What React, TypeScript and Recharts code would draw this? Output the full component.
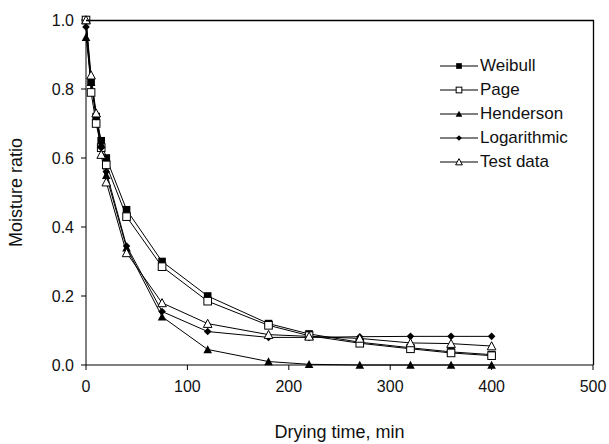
import React from 'react';
import {
  LineChart,
  Line,
  XAxis,
  YAxis
} from 'recharts';

// Drying times (min) and moisture ratio per model
const times = [0, 5, 10, 15, 20, 40, 75, 120, 180, 220, 270, 320, 360, 400];
const weibull = [1.0, 0.82, 0.72, 0.65, 0.6, 0.45, 0.3, 0.2, 0.12, 0.09, 0.066, 0.05, 0.038, 0.03];
const page = [1.0, 0.79, 0.7, 0.63, 0.58, 0.43, 0.285, 0.185, 0.115, 0.085, 0.063, 0.047, 0.035, 0.027];
const henderson = [0.95, 0.82, 0.73, 0.64, 0.55, 0.34, 0.14, 0.045, 0.01, 0.002, 0, 0, 0, 0];
const logarithmic = [0.98, 0.82, 0.72, 0.63, 0.56, 0.345, 0.155, 0.097, 0.08, 0.08, 0.082, 0.083, 0.083, 0.083];
const testData = [1.0, 0.84, 0.73, 0.61, 0.53, 0.325, 0.18, 0.12, 0.088, 0.083, 0.077, 0.064, 0.062, 0.055];

const xTicks = [0, 100, 200, 300, 400, 500];
const yTicks = [0, 0.2, 0.4, 0.6, 0.8, 1.0];

const series = [
  { key: 'weibull', name: 'Weibull', values: weibull, marker: 'squareFilled' },
  { key: 'page', name: 'Page', values: page, marker: 'squareOpen' },
  { key: 'henderson', name: 'Henderson', values: henderson, marker: 'triangleFilled' },
  { key: 'logarithmic', name: 'Logarithmic', values: logarithmic, marker: 'diamond' },
  { key: 'testData', name: 'Test data', values: testData, marker: 'triangleOpen' }
];

const data = times.map((t, i) => {
  const row: Record<string, number> = { time: t };
  series.forEach(s => { row[s.key] = s.values[i]; });
  return row;
});

const FONT = 'Liberation Sans, Arial, sans-serif';
const INK = '#111';

// chart box and plot margins
const W = 609;
const H = 444;
const M = { top: 20, right: 16, left: 86, bottom: 79 };

const Marker = ({ type, cx, cy, size = 1 }: { type: string; cx: number; cy: number; size?: number }) => {
  const s = 3.8 * size;
  switch (type) {
    case 'squareFilled':
      return <rect x={cx - s} y={cy - s} width={s * 2} height={s * 2} fill="#000" />;
    case 'squareOpen':
      return <rect x={cx - s} y={cy - s} width={s * 2} height={s * 2} fill="#fff" stroke="#000" strokeWidth={1} />;
    case 'triangleFilled':
      return <polygon points={`${cx},${cy - s - 0.5} ${cx + s + 0.5},${cy + s} ${cx - s - 0.5},${cy + s}`} fill="#000" />;
    case 'triangleOpen':
      return <polygon points={`${cx},${cy - s - 0.5} ${cx + s + 0.5},${cy + s} ${cx - s - 0.5},${cy + s}`} fill="#fff" stroke="#000" strokeWidth={1} />;
    case 'diamond':
      return <polygon points={`${cx},${cy - s} ${cx + s},${cy} ${cx},${cy + s} ${cx - s},${cy}`} fill="#000" />;
    default:
      return null;
  }
};

const makeDot = (type: string) => (props: any) => {
  const { cx, cy, index } = props;
  if (cx == null || cy == null) return <g key={index} />;
  return (
    <g key={`${type}-${index}`}>
      <Marker type={type} cx={cx} cy={cy} />
    </g>
  );
};

// Legend box placed inside the plot, upper right
const LegendBox = () => (
  <div style={{ position: 'absolute', left: 440, top: 54, fontFamily: FONT, fontSize: 17, color: INK }}>
    {series.map(s => (
      <div key={s.key} style={{ display: 'flex', alignItems: 'center', height: 24 }}>
        <svg width={38} height={12} style={{ marginRight: 2 }}>
          <line x1={0} y1={6} x2={38} y2={6} stroke="#000" strokeWidth={1} />
          <Marker type={s.marker} cx={19} cy={6} size={0.75} />
        </svg>
        <span>{s.name}</span>
      </div>
    ))}
  </div>
);

// Top and right edges of the plot box, laid over the chart
const PlotFrame = () => {
  const x0 = M.left;
  const x1 = W - M.right;
  const y0 = M.top;
  const y1 = H - M.bottom;
  return (
    <svg
      width={W}
      height={H}
      style={{ position: 'absolute', left: 0, top: 0, pointerEvents: 'none', zIndex: 2 }}
    >
      <line x1={x0} y1={y0 + 0.5} x2={x1 + 1} y2={y0 + 0.5} stroke="#000" strokeWidth={1.3} />
      <line x1={x1 + 0.5} y1={y0} x2={x1 + 0.5} y2={y1} stroke="#000" strokeWidth={1.3} />
    </svg>
  );
};

const App: React.FC = () => {
  return (
    <div style={{ position: 'relative', width: W, height: H, background: '#fff' }}>
      <style>{'body{margin:0;}'}</style>
      <LineChart
        width={W}
        height={H}
        data={data}
        margin={{ top: M.top, right: M.right, left: 0, bottom: 0 }}
      >
        <XAxis
          dataKey="time"
          type="number"
          domain={[0, 500]}
          ticks={xTicks}
          height={M.bottom}
          stroke="#000"
          tickSize={5}
          tick={{ fill: INK, fontSize: 16, fontFamily: FONT, dy: 9 }}
          label={{
            value: 'Drying time, min',
            position: 'insideBottom',
            offset: 6,
            style: { fill: INK, fontSize: 18, fontFamily: FONT }
          }}
        />
        <YAxis
          type="number"
          domain={[0, 1]}
          ticks={yTicks}
          width={M.left}
          stroke="#000"
          tickSize={5}
          tickFormatter={(v: number) => v.toFixed(1)}
          tick={{ fill: INK, fontSize: 16, fontFamily: FONT, dx: -5 }}
          label={{
            value: 'Moisture ratio',
            angle: -90,
            position: 'insideLeft',
            offset: 16,
            style: { textAnchor: 'middle', fill: INK, fontSize: 18, fontFamily: FONT }
          }}
        />
        {series.map(s => (
          <Line
            key={s.key}
            type="linear"
            dataKey={s.key}
            name={s.name}
            stroke="#000"
            strokeWidth={1}
            dot={makeDot(s.marker)}
            activeDot={false}
            isAnimationActive={false}
          />
        ))}
      </LineChart>
      <PlotFrame />
      <LegendBox />
    </div>
  );
};

export default App;
